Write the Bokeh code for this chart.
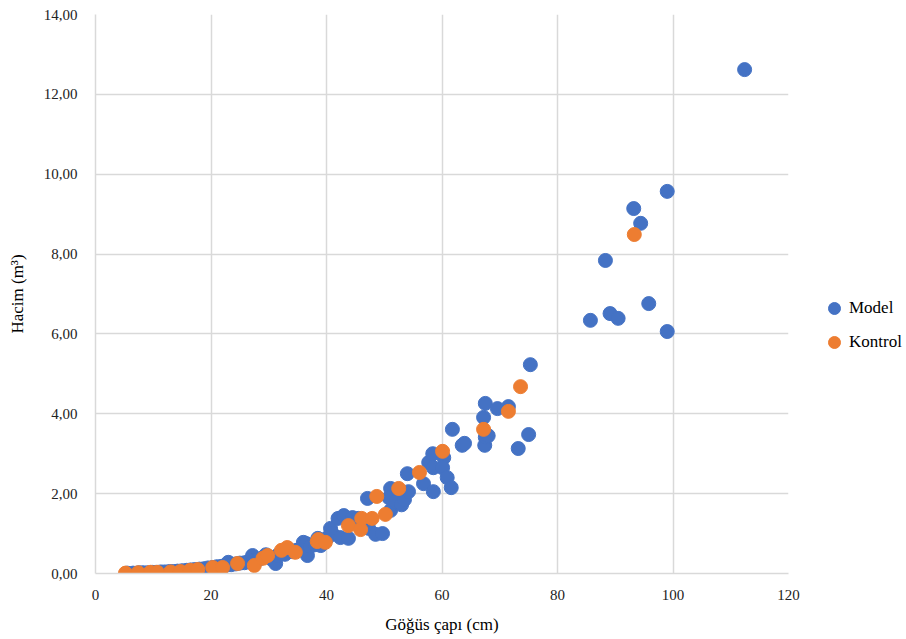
from bokeh.plotting import figure
from bokeh.models import Range1d, FixedTicker, CustomJSTickFormatter, Legend, LegendItem
from bokeh.embed import file_html
from bokeh.resources import INLINE

# Model series
model_x = [5.5, 6.5, 7.5, 8.2, 9.0, 9.8, 10.5, 11.3, 12.0, 12.8, 13.5, 14.2, 15.0, 15.8,
           16.5, 17.2, 18.0, 18.8, 19.5, 20.3, 21.0, 21.8, 22.5, 23.0, 23.5, 24.3, 25.0,
           25.8, 26.5, 27.2, 27.5, 28.2, 29.0, 29.5, 30.0, 30.5, 31.2, 31.5, 32.0, 32.8,
           33.5, 34.0, 34.8, 35.5, 36.0, 36.5, 36.7, 37.2, 38.0, 38.5, 39.0, 39.5, 40.2,
           40.7, 41.0, 42.0, 42.4, 43.0, 43.8, 44.5, 45.5, 47.1, 47.3, 48.5, 49.7, 51.1,
           51.1, 50.8, 52.0, 53.0, 53.5, 54.0, 54.2, 56.8, 57.7, 58.4, 58.5, 58.5, 60.3,
           60.1, 60.9, 61.6, 61.8, 63.5, 63.9, 67.2, 67.4, 67.5, 68.0, 67.5, 69.6, 71.5,
           73.2, 75.0, 75.3, 85.7, 88.3, 89.1, 90.5, 93.2, 94.4, 95.8, 99.0, 99.0, 112.4]
model_y = [0.01, 0.01, 0.02, 0.02, 0.02, 0.03, 0.03, 0.04, 0.04, 0.05, 0.05, 0.06, 0.07, 0.08,
           0.09, 0.10, 0.11, 0.12, 0.14, 0.15, 0.17, 0.18, 0.20, 0.28, 0.22, 0.24, 0.26,
           0.27, 0.30, 0.45, 0.33, 0.35, 0.40, 0.47, 0.42, 0.36, 0.25, 0.45, 0.50, 0.48,
           0.60, 0.55, 0.58, 0.62, 0.78, 0.75, 0.45, 0.68, 0.72, 0.88, 0.70, 0.82, 0.90,
           1.13, 1.00, 1.38, 0.90, 1.45, 0.88, 1.40, 1.38, 1.88, 1.13, 0.98, 1.00, 2.13,
           1.58, 1.90, 1.80, 1.72, 1.85, 2.50, 2.05, 2.25, 2.78, 3.00, 2.65, 2.05, 2.90,
           2.65, 2.40, 2.15, 3.61, 3.21, 3.26, 3.91, 3.21, 3.41, 3.45, 4.26, 4.13, 4.18,
           3.13, 3.48, 5.23, 6.34, 7.84, 6.51, 6.39, 9.14, 8.77, 6.76, 9.57, 6.06, 12.62]

# Kontrol series
kontrol_x = [5.2, 7.4, 9.5, 10.7, 13.0, 14.7, 16.4, 17.7, 20.3, 22.0, 24.6, 27.5, 29.0, 29.8,
             32.2, 33.2, 34.6, 38.4, 38.6, 39.8, 43.8, 45.9, 46.1, 47.9, 48.7, 50.2, 52.5,
             56.1, 60.1, 67.2, 71.5, 73.6, 93.3]
kontrol_y = [0.01, 0.02, 0.03, 0.03, 0.04, 0.05, 0.08, 0.10, 0.15, 0.15, 0.25, 0.20, 0.38, 0.45,
             0.58, 0.65, 0.53, 0.80, 0.85, 0.78, 1.20, 1.10, 1.38, 1.38, 1.93, 1.48, 2.13,
             2.53, 3.06, 3.61, 4.06, 4.68, 8.49]

x_ticks = [0, 20, 40, 60, 80, 100, 120]
y_ticks = [0, 2, 4, 6, 8, 10, 12, 14]

BLUE = "#4472C4"
ORANGE = "#ED7D31"
GRID = "#D9D9D9"
FONT = "Liberation Serif"

p = figure(frame_width=693, frame_height=559, output_backend="svg", toolbar_location=None,
           x_range=Range1d(0, 120), y_range=Range1d(0, 14),
           min_border_left=95, min_border_right=118, min_border_top=14, min_border_bottom=66)
p.outline_line_color = None
p.background_fill_color = "white"
p.border_fill_color = "white"

r1 = p.scatter(model_x, model_y, size=14, fill_color=BLUE, line_color=BLUE)
r2 = p.scatter(kontrol_x, kontrol_y, size=14, fill_color=ORANGE, line_color=ORANGE)

p.xaxis.ticker = FixedTicker(ticks=x_ticks)
p.yaxis.ticker = FixedTicker(ticks=y_ticks)
p.yaxis.formatter = CustomJSTickFormatter(code="return tick.toFixed(2).replace('.', ',');")

for ax in (p.xaxis[0], p.yaxis[0]):
    ax.axis_line_color = GRID
    ax.axis_line_width = 1.5
    ax.major_tick_line_color = None
    ax.minor_tick_line_color = None
    ax.major_label_text_font = FONT
    ax.major_label_text_font_size = "15px"
    ax.major_label_text_color = "#222222"
    ax.axis_label_text_font = FONT
    ax.axis_label_text_font_size = "17px"
    ax.axis_label_text_font_style = "normal"
    ax.axis_label_text_color = "#000000"

p.xaxis.axis_label = "Göğüs çapı (cm)"
p.yaxis.axis_label = "Hacim (m³)"
p.xaxis.major_label_standoff = 10
p.yaxis.major_label_standoff = 12
p.xaxis.axis_label_standoff = 12
p.yaxis.axis_label_standoff = 14

p.xgrid.grid_line_color = GRID
p.ygrid.grid_line_color = GRID
p.xgrid.grid_line_width = 1.5
p.ygrid.grid_line_width = 1.5

legend = Legend(items=[LegendItem(label="Model", renderers=[r1]),
                       LegendItem(label="Kontrol", renderers=[r2])],
                location=(31, 216), orientation="vertical",
                label_text_font=FONT, label_text_font_size="17px",
                label_text_color="#000000",
                glyph_width=30, glyph_height=30, label_standoff=0,
                spacing=4, border_line_color=None, background_fill_alpha=0,
                padding=0, margin=0)
p.add_layout(legend, "right")

open("out.html", "w").write(file_html(p, INLINE))
